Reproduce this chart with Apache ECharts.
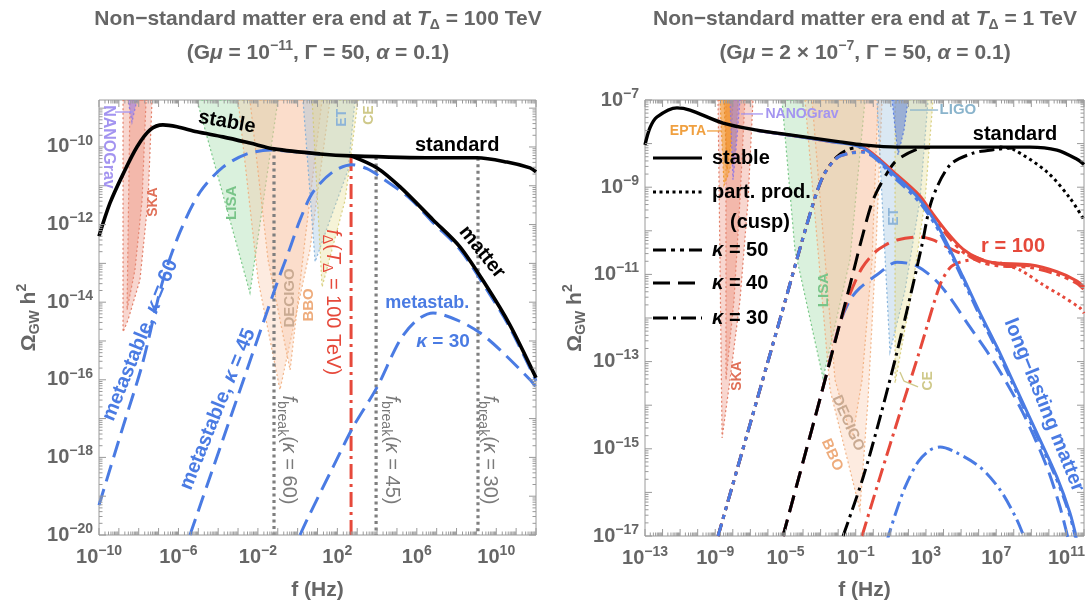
<!DOCTYPE html>
<html>
<head>
<meta charset="utf-8">
<title>Cosmic-string GW spectra with a non-standard matter era</title>
<script src="https://cdn.jsdelivr.net/npm/echarts@6/dist/echarts.min.js"></script>
<style>
html,body{margin:0;padding:0;background:#fff;}
#chart{width:1088px;height:603px;}
</style>
</head>
<body>
<div id="chart"></div>
<script>
// Every point below is [log10(f / Hz), log10(Omega_GW h^2)].

// ---- left panel: T_Delta = 100 TeV, G mu = 1e-11 ----
const L_stable = [[-10,-12.3],[-9.45,-11.45],[-8.79,-10.70],[-8.09,-10.0],[-7.43,-9.56],[-6.78,-9.43],[-6.07,-9.48],[-5.07,-9.61],[-3.76,-9.74],[-2.40,-9.90],[-1.19,-10.05],[1.13,-10.18],[2.69,-10.23],[6.82,-10.28],[9.03,-10.28],[10.54,-10.39],[11.70,-10.54],[12.0,-10.64]];
const L_matter = [[2.69,-10.23],[4.0,-10.54],[5.16,-11.03],[6.82,-11.88],[8.18,-12.58],[9.54,-13.61],[10.69,-14.59],[12.0,-15.95]];
const L_meta60 = [[-10,-19.23],[-8.84,-17.29],[-7.83,-15.62],[-6.78,-13.43],[-5.92,-12.19],[-4.91,-11.16],[-3.76,-10.52],[-2.55,-10.18],[-1.39,-10.08],[-0.63,-10.10],[1.13,-10.19]];
const L_meta45 = [[-5.42,-20],[-3.25,-16.78],[-1.04,-13.51],[-0.38,-12.60],[0.12,-11.88],[0.78,-11.16],[1.78,-10.64],[2.74,-10.46],[3.49,-10.56],[4.30,-10.82],[5.66,-11.33],[6.82,-11.95],[8.18,-12.65],[9.54,-13.69],[10.69,-14.66],[12.0,-16.03]];
const L_meta30 = [[0.12,-20],[0.47,-19.61],[1.78,-18.25],[2.79,-17.22],[4.0,-16.19],[5.16,-14.97],[6.01,-14.46],[6.82,-14.28],[8.03,-14.46],[9.18,-14.79],[10.19,-15.23],[11.70,-16.0],[12.0,-16.19]];
const L_fBreak = [[-1.19,-10.05],[3.95,-10.26],[9.08,-10.28]];   // kappa = 60, 45, 30
const L_fDelta = [2.69,-10.23];
const L_NANOGrav = [[-8.54,-8.79],[-8.09,-8.79],[-8.34,-9.36]];
const L_SKA = [[-8.79,-8.79],[-7.33,-8.79],[-7.53,-11.37],[-7.94,-13.43],[-8.54,-14.46],[-8.79,-14.77]];
const L_SKAcore = [[-8.44,-8.79],[-7.63,-8.79],[-7.83,-11.37],[-8.19,-13.17],[-8.59,-14.20]];
const L_LISA = [[-5.07,-8.79],[-0.99,-8.79],[-2.40,-13.76]];
const L_DECIGO = [[-3.0,-8.79],[1.63,-8.79],[0.62,-12.65],[-0.89,-16.26],[-1.99,-13.43]];
const L_BBO = [[-2.40,-8.79],[1.23,-8.79],[0.37,-12.40],[-0.38,-15.75],[-1.49,-12.91]];
const L_ET = [[0.27,-8.79],[2.89,-8.79],[2.54,-10.59],[1.63,-11.88],[0.88,-12.96]];
const L_CE = [[0.73,-8.79],[3.04,-8.79],[2.39,-11.37],[1.23,-13.61]];

// ---- right panel: T_Delta = 1 TeV, G mu = 2e-7 ----
const R_stable = [[-13,-8.03],[-12.72,-7.64],[-12.32,-7.39],[-11.18,-7.18],[-10.44,-7.23],[-8.56,-7.53],[-6.62,-7.69],[-4.74,-7.80],[-1.90,-7.96],[-0.59,-8.03],[1.35,-8.08],[5.11,-8.08],[8.92,-8.08],[10.46,-8.15],[11.60,-8.36],[12,-8.48]];
const R_cusp = [[7.2,-8.08],[7.96,-8.13],[9.89,-8.65],[11.20,-9.25],[12,-9.75]];
const R_longStable = [[-6.62,-7.70],[-4.74,-7.81],[-2.46,-7.95],[-0.59,-8.10],[1.35,-8.77],[2.66,-9.29],[3.80,-9.98],[5.11,-11.06],[6.08,-11.89],[7.05,-12.67],[8.18,-13.65],[9.32,-14.64],[10.46,-15.65],[11.20,-16.47],[11.6,-17.1]];
const R_r100Stable = [[-6.62,-7.70],[-4.74,-7.81],[-2.46,-7.95],[-0.59,-8.08],[1.35,-8.72],[2.66,-9.20],[3.23,-9.52],[4.20,-10.03],[5.11,-10.42],[6.08,-10.65],[7.05,-10.74],[8.92,-10.78],[10.46,-10.94],[11.60,-11.15],[12,-11.29]];
const R_r100Cusp = [[7.22,-10.74],[8.36,-10.90],[9.67,-11.24],[10.63,-11.47],[11.77,-11.77],[12,-11.89]];
const R_k50std = [[-8.84,-17],[-7.0,-14.41],[-5.2,-11.87],[-3.6,-9.61],[-2.86,-8.75],[-2.07,-8.30],[-1.33,-8.12],[-0.19,-8.05]];
const R_k50long = [[-8.84,-17],[-7.0,-14.41],[-5.2,-11.87],[-3.6,-9.61],[-2.86,-8.75],[-2.07,-8.33],[-1.33,-8.22],[-0.59,-8.20],[1.35,-8.84],[2.66,-9.36],[3.80,-10.05],[5.11,-11.13],[6.08,-11.96],[7.05,-12.74],[8.18,-13.72],[9.32,-14.71],[10.46,-15.72],[11.20,-16.54],[11.55,-17.1]];
const R_k50r100 = [[-8.84,-17],[-7.0,-14.41],[-5.2,-11.87],[-3.6,-9.61],[-2.86,-8.75],[-2.07,-8.33],[-1.33,-8.22],[-0.59,-8.18],[1.35,-8.79],[2.66,-9.27],[3.23,-9.59],[4.20,-10.10],[5.11,-10.49],[6.08,-10.71],[7.05,-10.80],[8.92,-10.84],[10.46,-11.00],[11.60,-11.21],[12,-11.35]];
const R_k40std = [[-5.14,-17],[-4.0,-15.30],[-3.03,-13.85],[-1.90,-12.12],[-1.33,-11.25],[-0.59,-10.08],[-0.02,-9.30],[0.78,-8.68],[1.35,-8.38],[2.49,-8.13],[3.23,-8.09]];
const R_k40long = [[-5.14,-17],[-4.0,-15.30],[-3.03,-13.85],[-1.90,-12.12],[-1.33,-11.59],[-0.76,-11.31],[0.21,-11.01],[1.35,-10.72],[2.49,-10.81],[3.80,-11.24],[5.51,-12.21],[7.05,-13.12],[8.53,-14.18],[9.89,-15.42],[10.63,-16.33],[11.09,-17.05]];
const R_k40r100 = [[-5.14,-17],[-4.0,-15.30],[-3.03,-13.85],[-1.90,-12.12],[-1.33,-11.45],[-0.64,-10.85],[0.10,-10.49],[0.67,-10.33],[1.35,-10.21],[2.66,-10.14],[3.40,-10.21],[4.20,-10.37],[4.94,-10.51],[5.79,-10.60],[6.65,-10.72],[7.22,-10.76],[8.92,-10.80]];
const R_k30std = [[-1.72,-17],[-0.59,-15.67],[0.38,-14.29],[1.35,-12.78],[2.26,-11.24],[2.77,-10.33],[3.34,-9.29],[4.37,-8.49],[5.68,-8.22],[7.05,-8.13],[7.96,-8.10]];
const R_k30r100 = [[-0.64,-17],[0.38,-15.65],[1.52,-14.18],[2.66,-12.73],[3.80,-11.24],[4.37,-10.85],[4.94,-10.72],[5.79,-10.66],[6.65,-10.72],[7.50,-10.77],[8.07,-10.79]];
const R_k30long = [[0.75,-17.15],[1.24,-16.52],[1.81,-15.88],[2.55,-15.30],[3.23,-15.03],[3.80,-14.96],[4.65,-15.07],[6.08,-15.42],[7.22,-15.94],[8.18,-16.63],[8.7,-17.15]];
const R_EPTA = [[-8.73,-7],[-7.70,-7],[-7.87,-8.15],[-8.27,-8.72],[-8.50,-8.95]];
const R_EPTAcore = [[-8.50,-7],[-7.99,-7],[-8.10,-8.0],[-8.33,-8.6]];
const R_NANOGrav = [[-8.16,-7],[-7.59,-7],[-7.82,-8.15],[-7.99,-8.83]];
const R_SKA = [[-8.84,-7],[-6.85,-7],[-7.13,-9.29],[-7.59,-11.59],[-8.16,-13.42],[-8.61,-14.75]];
const R_SKAcore = [[-8.39,-7],[-7.31,-7],[-7.59,-9.29],[-7.93,-11.59],[-8.39,-13.42]];
const R_LISA = [[-5.20,-7],[-0.47,-7],[-1.33,-10.67],[-2.86,-13.38],[-4.46,-10.44]];
const R_DECIGO = [[-3.89,-7],[0.50,-7],[0.15,-10.44],[-0.30,-13.88],[-0.76,-16.40],[-2.46,-13.65]];
const R_BBO = [[-3.49,-7],[0.27,-7],[-0.07,-10.67],[-0.64,-13.42],[-1.21,-14.80],[-2.18,-13.42]];
const R_ET = [[0.21,-7],[3.12,-7],[2.66,-9.29],[1.81,-11.36],[0.95,-12.78]];
const R_CE = [[1.24,-7],[3.40,-7],[2.95,-9.29],[2.21,-11.36],[1.24,-13.49]];
const R_LIGO = [[1.07,-7],[1.98,-7],[1.75,-7.69],[1.41,-8.26]];

// axis ranges (log10) and labelled decades
const X_RANGE = [[-10, 12], [-13, 12]];
const Y_RANGE = [[-20, -8.79], [-17, -7]];
const L_xTicks = [-10, -6, -2, 2, 6, 10];
const L_yTicks = [-20, -18, -16, -14, -12, -10];
const R_xTicks = [-13, -9, -5, -1, 3, 7, 11];
const R_yTicks = [-17, -15, -13, -11, -9, -7];

// ---------------------------------------------------------------
const FONT = '"Liberation Sans", Arial, Helvetica, sans-serif';
const BLUE = '#4a7be3', RED = '#e6493b', GRAYTXT = '#666666', FRAME = '#9a9a9a';
const E = v => Math.pow(10, v);
const toXY = a => a.map(p => [E(p[0]), E(p[1])]);

const DOT = [3, 3.5], K50 = [13, 5, 4, 5, 4, 5], K40 = [17, 8], K30 = [15, 5, 3, 5], META = [17, 8], DASHDOT = [15, 5, 3, 5];

function curve(g, data, color, dash, width, z, smooth) {
  return {
    type: 'line', xAxisIndex: g, yAxisIndex: g, data: toXY(data),
    showSymbol: false, symbol: 'none', smooth: smooth === undefined ? 0.3 : smooth,
    clip: true, silent: true, animation: false, z: z || 3,
    lineStyle: {color: color, width: width || 3, type: dash || 'solid', cap: 'butt', join: 'round'}
  };
}
function vline(g, top, color, dash, width, z) {
  return curve(g, [[top[0], top[1]], [top[0], Y_RANGE[g][0]]], color, dash, width, z, false);
}
function region(g, poly, fill, stroke, z) {
  return {
    type: 'custom', xAxisIndex: g, yAxisIndex: g, silent: true, animation: false, z: z || 1, clip: true,
    data: [[E(poly[0][0]), E(poly[0][1])]],
    renderItem: function (params, api) {
      return {
        type: 'polygon',
        shape: {points: poly.map(p => api.coord([E(p[0]), E(p[1])]))},
        style: {fill: fill, stroke: stroke, lineWidth: 1.2, lineDash: [2, 2.5]}
      };
    }
  };
}

const C = {
  ska: ['rgba(232,120,95,0.30)', 'rgba(222,108,82,0.85)'],
  skaCore: ['rgba(232,120,95,0.32)', 'rgba(222,108,82,0.7)'],
  nano: ['rgba(150,125,235,0.55)', 'rgba(140,115,230,0.9)'],
  epta: ['rgba(245,160,50,0.6)', 'rgba(238,148,40,0.9)'],
  eptaCore: ['rgba(240,140,30,0.45)', 'rgba(230,130,30,0.8)'],
  lisa: ['rgba(140,210,150,0.32)', 'rgba(110,195,125,0.9)'],
  deci: ['rgba(248,195,160,0.33)', 'rgba(240,170,120,0.85)'],
  et: ['rgba(150,190,222,0.35)', 'rgba(120,170,215,0.85)'],
  ce: ['rgba(228,222,140,0.35)', 'rgba(210,200,110,0.85)'],
  ligo: ['rgba(70,110,220,0.45)', 'rgba(70,110,220,0.8)']
};

const series = [
  // left detectors
  region(0, L_SKA, ...C.ska), region(0, L_SKAcore, ...C.skaCore), region(0, L_NANOGrav, ...C.nano),
  region(0, L_LISA, ...C.lisa), region(0, L_DECIGO, ...C.deci), region(0, L_BBO, ...C.deci),
  region(0, L_ET, ...C.et), region(0, L_CE, ...C.ce),
  // left curves
  vline(0, L_fBreak[0], '#7f7f7f', DOT, 3.2, 2), vline(0, L_fBreak[1], '#7f7f7f', DOT, 3.2, 2), vline(0, L_fBreak[2], '#7f7f7f', DOT, 3.2, 2),
  vline(0, L_fDelta, RED, DASHDOT, 3, 3),
  curve(0, L_meta60, BLUE, META, 3, 4), curve(0, L_meta45, BLUE, META, 3, 4), curve(0, L_meta30, BLUE, META, 3, 4),
  curve(0, L_stable, '#000', 'solid', 3.6, 5), curve(0, L_matter, '#000', 'solid', 3.6, 5),
  // right detectors
  region(1, R_SKA, ...C.ska), region(1, R_SKAcore, ...C.skaCore), region(1, R_EPTA, ...C.epta), region(1, R_EPTAcore, ...C.eptaCore),
  region(1, R_NANOGrav, ...C.nano), region(1, R_LISA, ...C.lisa), region(1, R_DECIGO, ...C.deci), region(1, R_BBO, ...C.deci),
  region(1, R_ET, ...C.et), region(1, R_CE, ...C.ce), region(1, R_LIGO, ...C.ligo),
  // right curves
  curve(1, R_k50std, '#000', K50, 3, 3), curve(1, R_k50r100, RED, K50, 3, 4), curve(1, R_k50long, BLUE, K50, 3, 5),
  curve(1, R_k40long, BLUE, K40, 3, 3), curve(1, R_k40r100, RED, K40, 3, 4), curve(1, R_k40std, '#000', K40, 3, 5),
  curve(1, R_k30std, '#000', K30, 3, 5), curve(1, R_k30r100, RED, K30, 3, 4), curve(1, R_k30long, BLUE, K30, 3, 4),
  curve(1, R_r100Cusp, RED, DOT, 3, 4), curve(1, R_cusp, '#000', DOT, 3, 5),
  curve(1, R_r100Stable, RED, 'solid', 3, 5), curve(1, R_longStable, BLUE, 'solid', 3, 6),
  curve(1, R_stable, '#000', 'solid', 3.4, 7)
];

const chart = echarts.init(document.getElementById('chart'), null, {renderer: 'canvas', width: 1088, height: 603});
chart.setOption({
  animation: false,
  backgroundColor: '#ffffff',
  grid: [
    {left: 99, top: 100, width: 437, height: 435, show: true, borderColor: FRAME, borderWidth: 1, backgroundColor: 'rgba(0,0,0,0)', containLabel: false},
    {left: 645, top: 100, width: 439, height: 436, show: true, borderColor: FRAME, borderWidth: 1, backgroundColor: 'rgba(0,0,0,0)', containLabel: false}
  ],
  xAxis: [0, 1].map(g => ({type: 'log', logBase: 10, gridIndex: g, min: E(X_RANGE[g][0]), max: E(X_RANGE[g][1]), show: false})),
  yAxis: [0, 1].map(g => ({type: 'log', logBase: 10, gridIndex: g, min: E(Y_RANGE[g][0]), max: E(Y_RANGE[g][1]), show: false})),
  series: series
});

// ---------- text helpers (rich text for sub/superscripts) ----------
function rich(size, color, weight) {
  const s = Math.round(size * 0.68);
  const b = {fontFamily: FONT, fontSize: size, fontWeight: weight, fill: color, lineHeight: size + 6};
  const sm = {fontFamily: FONT, fontSize: s, fontWeight: weight, fill: color, lineHeight: s};
  return {
    n: b,
    i: Object.assign({}, b, {fontStyle: 'italic'}),
    sup: Object.assign({}, sm, {verticalAlign: 'top'}),
    sub: Object.assign({}, sm, {verticalAlign: 'bottom'})
  };
}
function text(x, y, str, size, color, weight, rot, align) {
  weight = weight || 'normal';
  return {
    type: 'text', x: x, y: y, rotation: (rot || 0) * Math.PI / 180, silent: true, z: 100,
    style: {text: str, rich: rich(size, color, weight), align: align || 'center', verticalAlign: 'middle',
            fontFamily: FONT, fontSize: size, fontWeight: weight, fill: color}
  };
}
function seg(x1, y1, x2, y2, color, width, dash) {
  return {type: 'line', silent: true, z: 90, shape: {x1: x1, y1: y1, x2: x2, y2: y2},
          style: {stroke: color, lineWidth: width, lineDash: dash || null, lineCap: 'butt'}};
}
const pix = (g, p) => chart.convertToPixel({gridIndex: g}, [E(p[0]), E(p[1])]);
const expLabel = k => '{n|10}{sup|' + (k < 0 ? '\u2212' + (-k) : String(k)) + '}';

const gfx = [];

// frame ticks (all four sides, pointing inward) and tick labels
[[L_xTicks, L_yTicks], [R_xTicks, R_yTicks]].forEach(function (lab, g) {
  const xr = X_RANGE[g], yr = Y_RANGE[g];
  const bl = pix(g, [xr[0], yr[0]]), tr = pix(g, [xr[1], yr[1]]);
  for (let k = Math.floor(xr[0]); k <= Math.ceil(xr[1]); k++) {
    for (let m = 1; m <= 9; m++) {
      const v = k + Math.log10(m);
      if (v < xr[0] - 1e-9 || v > xr[1] + 1e-9) continue;
      const x = pix(g, [v, yr[0]])[0];
      const len = m === 1 ? 7 : 3.5;
      gfx.push(seg(x, bl[1], x, bl[1] - len, FRAME, 1));
      gfx.push(seg(x, tr[1], x, tr[1] + len, FRAME, 1));
    }
  }
  for (let k = Math.floor(yr[0]); k <= Math.ceil(yr[1]); k++) {
    for (let m = 1; m <= 9; m++) {
      const v = k + Math.log10(m);
      if (v < yr[0] - 1e-9 || v > yr[1] + 1e-9) continue;
      const y = pix(g, [xr[0], v])[1];
      const len = m === 1 ? 7 : 3.5;
      gfx.push(seg(bl[0], y, bl[0] + len, y, FRAME, 1));
      gfx.push(seg(tr[0], y, tr[0] - len, y, FRAME, 1));
    }
  }
  lab[0].forEach(k => { const x = pix(g, [k, yr[0]])[0]; gfx.push(text(x, bl[1] + 22, expLabel(k), 20, GRAYTXT, 'bold')); });
  lab[1].forEach(k => { const y = pix(g, [xr[0], k])[1]; gfx.push(text(bl[0] - 6, y, expLabel(k), 20, GRAYTXT, 'bold', 0, 'right')); });
  const cx = (bl[0] + tr[0]) / 2, cy = (bl[1] + tr[1]) / 2;
  gfx.push(text(cx, 590, 'f (Hz)', 21, GRAYTXT, 'bold'));
  gfx.push(text(bl[0] - 70, cy, '{n|\u03A9}{sub|GW}{n| h}{sup|2}', 21, GRAYTXT, 'bold', 90));
});

// titles
gfx.push(text(318, 19, '{n|Non\u2212standard matter era end at }{i|T}{sub|\u0394}{n| = 100 TeV}', 21, GRAYTXT, 'bold'));
gfx.push(text(318, 53, '{n|(G}{i|\u03BC}{n| = 10}{sup|\u221211}{n|, \u0393 = 50, }{i|\u03B1}{n| = 0.1)}', 21, GRAYTXT, 'bold'));
gfx.push(text(865, 19, '{n|Non\u2212standard matter era end at }{i|T}{sub|\u0394}{n| = 1 TeV}', 21, GRAYTXT, 'bold'));
gfx.push(text(865, 53, '{n|(G}{i|\u03BC}{n| = 2 \u00D7 10}{sup|\u22127}{n|, \u0393 = 50, }{i|\u03B1}{n| = 0.1)}', 21, GRAYTXT, 'bold'));

// annotations anchored at data coordinates: [grid, log f, log Omega, text, size, colour, weight, rotation]
const notes = [
  [0, -3.56, -9.36, 'stable', 20, '#000', 'bold', -10],
  [0, 8.03, -9.95, 'standard', 20, '#000', 'bold', 0],
  [0, 9.28, -12.71, 'matter', 20, '#000', 'bold', -51],
  [0, -7.92, -14.98, '{n|metastable, }{i|\u03BA}{n| = 60}', 20, BLUE, 'bold', 68],
  [0, -4.02, -16.76, '{n|metastable, }{i|\u03BA}{n| = 45}', 20, BLUE, 'bold', 68],
  [0, 6.52, -14.02, 'metastab.', 18, BLUE, 'bold', 0],
  [0, 7.32, -15.03, '{i|\u03BA}{n| = 30}', 19, BLUE, 'bold', 0],
  [0, 1.78, -14.0, '{i|f}{sub|\u0394}{n|(}{i|T}{sub|\u0394}{n| = 100 TeV)}', 20, RED, 'normal', -90],
  [0, -0.48, -17.81, '{i|f}{sub|break}{n|(}{i|\u03BA}{n| = 60)}', 20, '#7a7a7a', 'normal', -90],
  [0, 4.75, -17.81, '{i|f}{sub|break}{n|(}{i|\u03BA}{n| = 45)}', 20, '#7a7a7a', 'normal', -90],
  [0, 9.64, -17.81, '{i|f}{sub|break}{n|(}{i|\u03BA}{n| = 30)}', 20, '#7a7a7a', 'normal', -90],
  [0, -9.55, -10.0, 'NANOGrav', 16, '#a394f0', 'bold', -90],
  [0, -7.28, -11.42, 'SKA', 14, '#e07058', 'bold', 90],
  [0, -3.30, -11.44, 'LISA', 15, '#78c488', 'bold', 90],
  [0, -0.38, -13.89, 'DECIGO', 15, '#c9aa92', 'bold', 90],
  [0, 0.57, -14.07, 'BBO', 15, '#eeac7c', 'bold', 90],
  [0, 2.24, -9.25, 'ET', 14, '#8db4d8', 'bold', 90],
  [0, 3.60, -9.18, 'CE', 14, '#cfc98a', 'bold', 90],
  [1, 8.07, -7.80, 'standard', 20, '#000', 'bold', 0],
  [1, 7.96, -10.37, 'r = 100', 20, RED, 'bold', 0],
  [1, 9.72, -14.0, 'long\u2212lasting matter', 20, BLUE, 'bold', -68],
  [1, -10.55, -7.71, 'EPTA', 14, '#f0a040', 'bold', 0],
  [1, -4.06, -7.32, 'NANOGrav', 14, '#a394f0', 'bold', 0],
  [1, 4.82, -7.23, 'LIGO', 15, '#8ab4cc', 'bold', 0],
  [1, -7.76, -13.33, 'SKA', 14, '#e07058', 'bold', 90],
  [1, -2.81, -11.36, 'LISA', 15, '#78c488', 'bold', 90],
  [1, 1.18, -9.68, 'ET', 14, '#8db4d8', 'bold', 90],
  [1, 3.12, -13.44, 'CE', 14, '#cfc98a', 'bold', 90],
  [1, -1.44, -14.41, 'DECIGO', 15, '#c9aa92', 'bold', -66],
  [1, -2.35, -15.14, 'BBO', 15, '#eeac7c', 'bold', -66]
];
notes.forEach(n => { const p = pix(n[0], [n[1], n[2]]); gfx.push(text(p[0], p[1], n[3], n[4], n[5], n[6], n[7])); });

// leader lines from detector names to their regions
const leaders = [
  [0, [[-9.19, -9.10], [-8.29, -9.10]], '#a394f0'],
  [1, [[-9.47, -7.71], [-8.67, -7.71]], '#f0a040'],
  [1, [[-7.53, -7.32], [-6.28, -7.32]], '#a394f0'],
  [1, [[2.09, -7.23], [3.69, -7.23]], '#8ab4cc'],
  [1, [[1.52, -13.24], [1.75, -13.45], [2.55, -13.58]], '#cfc98a']
];
leaders.forEach(l => {
  for (let i = 0; i + 1 < l[1].length; i++) {
    const a = pix(l[0], l[1][i]), b = pix(l[0], l[1][i + 1]);
    gfx.push(seg(a[0], a[1], b[0], b[1], l[2], 1.3));
  }
});

// line-style key inside the right panel
const key = [
  [158, 'solid', 'stable'],
  [192, DOT, 'part. prod.'],
  [250, K50, '{i|\u03BA}{n| = 50}'],
  [283, K40, '{i|\u03BA}{n| = 40}'],
  [318, K30, '{i|\u03BA}{n| = 30}']
];
key.forEach(k => {
  gfx.push(seg(653, k[0], 702, k[0], '#000', 3, k[1] === 'solid' ? null : k[1]));
  gfx.push(text(712, k[0], k[2], 20, '#000', 'bold', 0, 'left'));
});
gfx.push(text(730, 222, '(cusp)', 20, '#000', 'bold', 0, 'left'));

chart.setOption({graphic: {elements: gfx}});
</script>
</body>
</html>
